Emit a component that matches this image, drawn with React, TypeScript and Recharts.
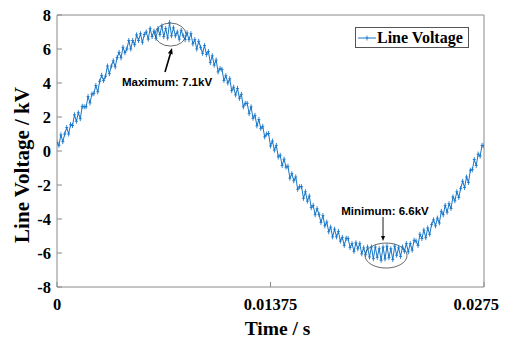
import React from 'react';
import { LineChart, Line, XAxis, YAxis, ReferenceDot, Legend } from 'recharts';

const SAMPLE_STEP = 0.000125;
const voltageKV = [
  0.5, 0.33, 0.95, 0.55, 1.0, 1.38, 1.0, 1.55, 1.5, 2.13,
  1.75, 2.25, 1.9, 2.63, 2.6, 2.6, 3.2, 2.83, 3.35, 3.38,
  3.85, 3.48, 4.1, 4.45, 4.15, 4.4, 5.0, 4.55, 5.0, 5.3,
  4.95, 5.5, 5.8, 5.48, 6.1, 5.78, 6.0, 6.5, 6.0, 6.5,
  6.25, 6.83, 6.5, 6.9, 6.4, 6.85, 7.0, 6.58, 7.2, 6.73,
  7.05, 6.63, 7.2, 6.85, 7.35, 6.73, 7.2, 6.65, 7.55, 6.78,
  7.25, 6.78, 7.0, 6.58, 7.1, 6.78, 6.55, 6.95, 6.55, 6.9,
  6.3, 6.55, 6.0, 6.45, 6.1, 5.75, 6.2, 5.68, 5.85, 5.2,
  5.6, 5.05, 5.35, 4.65, 4.85, 4.8, 4.15, 4.43, 4.0, 4.25,
  3.55, 3.75, 3.3, 3.68, 3.1, 3.33, 2.6, 2.8, 2.8, 2.2,
  2.6, 1.93, 2.1, 1.48, 1.85, 1.33, 1.45, 0.83, 1.0, 1.03,
  0.3, 0.58, 0.05, 0.33, -0.35, -0.25, -0.85, -0.48, -0.95, -0.9,
  -1.6, -1.33, -1.75, -1.53, -2.25, -2.1, -2.1, -2.78, -2.4, -2.95,
  -2.65, -3.33, -3.2, -3.75, -3.4, -3.73, -4.2, -3.8, -4.4, -4.18,
  -4.75, -4.48, -5.05, -4.6, -5.05, -4.73, -5.3, -5.08, -5.55, -5.13,
  -5.15, -5.68, -5.45, -5.9, -5.4, -5.75, -5.45, -6.05, -5.7, -6.1,
  -5.65, -6.23, -5.65, -6.33, -5.65, -6.25, -5.75, -6.43, -5.65, -6.35,
  -5.6, -6.28, -5.75, -6.38, -5.6, -6.13, -5.7, -6.2, -5.65, -5.9,
  -5.45, -5.93, -5.45, -5.83, -5.25, -5.3, -5.55, -4.9, -5.15, -4.65,
  -5.1, -4.53, -4.9, -4.33, -4.05, -4.4, -3.95, -4.23, -3.55, -3.75,
  -3.2, -3.6, -3.1, -3.38, -2.7, -2.93, -2.4, -2.73, -2.2, -1.78,
  -2.15, -1.53, -1.85, -1.13, -1.1, -0.5, -0.85, -0.18, -0.3, 0.33,
  0.3,
];
const timeTicks = [0, 0.01375, 0.0275];
const voltageTicks = [-8, -6, -4, -2, 0, 2, 4, 6, 8];
const timeDomain = [0, 0.0275];
const voltageDomain = [-8, 8];
const seriesName = 'Line Voltage';
const xTitle = 'Time / s';
const yTitle = 'Line Voltage / kV';
const maxLabel = 'Maximum: 7.1kV';
const minLabel = 'Minimum: 6.6kV';
const maxPoint = { t: 0.00731, v: 6.85 };
const minPoint = { t: 0.02119, v: -6.15 };

const data = voltageKV.map((v, i) => ({ t: Number((i * SAMPLE_STEP).toFixed(7)), v }));

const COLOR = '#1877c8';
const AXIS = '#8a8a8a';
const SERIF = '"Liberation Serif", "Times New Roman", serif';
const SANS = '"Liberation Sans", Arial, sans-serif';
const CHART_W = 505;

const PlusDot = (props: any) => {
  const { cx, cy, index } = props;
  if (cx == null || cy == null) return <g key={index} />;
  return (
    <path
      key={index}
      d={`M${cx - 1.5},${cy}H${cx + 1.5}M${cx},${cy - 2.5}V${cy + 2.5}`}
      stroke={COLOR}
      strokeWidth={0.9}
      fill="none"
    />
  );
};

const XTick = (props: any) => {
  const { x, y, payload } = props;
  const label = String(payload.value);
  const fs = 16.5;
  const half = label.length * fs * 0.27;
  const cx = Math.min(x, CHART_W - 2 - half);
  return (
    <text x={cx} y={y} dy="0.71em" textAnchor="middle" fontFamily={SERIF} fontWeight="bold" fontSize={fs} fill="#000">
      {label}
    </text>
  );
};

const MaxMark = (props: any) => {
  const { cx, cy } = props;
  return (
    <g>
      <ellipse cx={cx} cy={cy} rx={15.5} ry={11.5} stroke="#444" strokeWidth={0.8} fill="none" />
      <line x1={cx - 5.5} y1={cy + 37.5} x2={cx - 0.2} y2={cy + 19.5} stroke="#000" strokeWidth={1.6} />
      <polygon
        points={`${cx + 1.5},${cy + 13.5} ${cx + 2.2},${cy + 20} ${cx - 2.6},${cy + 18.6}`}
        fill="#000"
      />
      <text
        x={cx - 3.5}
        y={cy + 51}
        textAnchor="middle"
        fontFamily={SANS}
        fontWeight="bold"
        fontSize={11.5}
        fill="#000"
      >
        {maxLabel}
      </text>
    </g>
  );
};

const MinMark = (props: any) => {
  const { cx, cy } = props;
  return (
    <g>
      <ellipse cx={cx} cy={cy} rx={21} ry={12.5} stroke="#444" strokeWidth={0.8} fill="none" />
      <line x1={cx - 3} y1={cy - 38.5} x2={cx - 3} y2={cy - 19} stroke="#000" strokeWidth={0.9} />
      <polygon points={`${cx - 3},${cy - 14.5} ${cx - 5},${cy - 19.5} ${cx - 1},${cy - 19.5}`} fill="#000" />
      <text
        x={cx - 1}
        y={cy - 40.5}
        textAnchor="middle"
        fontFamily={SANS}
        fontWeight="bold"
        fontSize={11.5}
        fill="#000"
      >
        {minLabel}
      </text>
    </g>
  );
};

const LegendContent = () => (
  <div
    style={{
      boxSizing: 'border-box',
      width: 114,
      height: 21,
      border: '1px solid #555',
      background: '#fff',
      display: 'flex',
      alignItems: 'center',
      fontFamily: SERIF,
      fontWeight: 'bold',
      fontSize: 16,
      color: '#000',
      lineHeight: '19px',
    }}
  >
    <svg width={18} height={10} style={{ marginLeft: 2, marginRight: 1, flex: 'none' }}>
      <line x1={0} y1={5} x2={18} y2={5} stroke={COLOR} strokeWidth={1} />
      <path d="M7.5,5H10.5M9,2.5V7.5" stroke={COLOR} strokeWidth={0.8} />
    </svg>
    <span>{seriesName}</span>
  </div>
);

const XTitle = (p: any) => {
  const vb = p.viewBox;
  return (
    <text
      x={vb.x + vb.width / 2 + 7}
      y={vb.y + 48}
      textAnchor="middle"
      fontFamily={SERIF}
      fontWeight="bold"
      fontSize={19.5}
      fill="#000"
    >
      {xTitle}
    </text>
  );
};

const YTitle = (p: any) => {
  const vb = p.viewBox;
  const x = vb.x + 29;
  const y = vb.y + vb.height / 2 + 14;
  return (
    <text
      x={x}
      y={y}
      transform={`rotate(-90 ${x} ${y})`}
      textAnchor="middle"
      fontFamily={SERIF}
      fontWeight="bold"
      fontSize={21}
      fill="#000"
    >
      {yTitle}
    </text>
  );
};

const tickStyle = { fill: '#000', fontFamily: SERIF, fontWeight: 'bold', fontSize: 16.5 };

export default function App() {
  return (
    <div style={{ position: 'absolute', left: 0, top: 0, width: 505, height: 340, background: '#fff' }}>
      <LineChart width={CHART_W} height={340} data={data} margin={{ top: 14, right: 20, bottom: 0, left: 0 }}>
        <XAxis
          xAxisId="b"
          dataKey="t"
          type="number"
          domain={timeDomain}
          allowDataOverflow
          ticks={timeTicks}
          interval={0}
          orientation="bottom"
          height={53}
          tickSize={-5}
          tickMargin={16}
          stroke={AXIS}
          tick={<XTick />}
          label={{ content: XTitle }}
        />
        <XAxis
          xAxisId="top"
          dataKey="t"
          type="number"
          domain={timeDomain}
          allowDataOverflow
          ticks={timeTicks}
          interval={0}
          orientation="top"
          height={1}
          tick={false}
          tickSize={-5}
          stroke={AXIS}
        />
        <YAxis
          yAxisId="l"
          type="number"
          domain={voltageDomain}
          allowDataOverflow
          ticks={voltageTicks}
          interval={0}
          width={57}
          tickSize={-5}
          tickMargin={11}
          stroke={AXIS}
          tick={tickStyle}
          label={{ content: YTitle }}
        />
        <YAxis
          yAxisId="r"
          orientation="right"
          type="number"
          domain={voltageDomain}
          allowDataOverflow
          ticks={voltageTicks}
          interval={0}
          width={1}
          tick={false}
          tickSize={-5}
          stroke={AXIS}
        />
        <Legend
          layout="horizontal"
          verticalAlign="middle"
          align="center"
          wrapperStyle={{ position: 'absolute', left: 355, top: 27, width: 114, height: 21 }}
          content={LegendContent}
        />
        <Line
          xAxisId="b"
          yAxisId="l"
          dataKey="v"
          name={seriesName}
          type="linear"
          stroke={COLOR}
          strokeWidth={1}
          dot={PlusDot}
          activeDot={false}
          isAnimationActive={false}
        />
        <ReferenceDot
          xAxisId="b"
          yAxisId="l"
          x={maxPoint.t}
          y={maxPoint.v}
          ifOverflow="visible"
          shape={MaxMark}
        />
        <ReferenceDot
          xAxisId="b"
          yAxisId="l"
          x={minPoint.t}
          y={minPoint.v}
          ifOverflow="visible"
          shape={MinMark}
        />
      </LineChart>
    </div>
  );
}
